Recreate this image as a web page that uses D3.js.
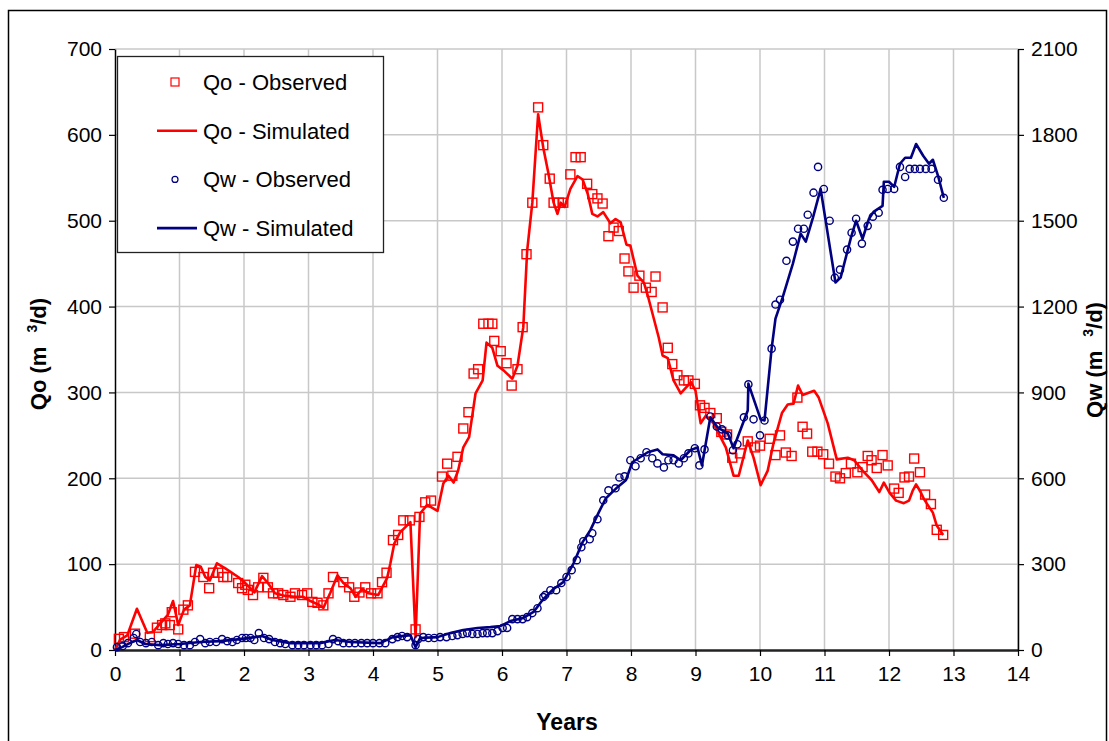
<!DOCTYPE html>
<html lang="en">
<head>
<meta charset="utf-8">
<script src="https://d3js.org/d3.v7.min.js"></script>
<style>
  body { margin: 0; background: #fff; }
  svg text { font-family: "Liberation Sans", Arial, sans-serif; }
</style>
</head>
<body>
<div id="chart"></div>
<script>
// Qo - observed (years, m3/d)
const qoObsYears = [0.06,0.14,0.31,0.54,0.65,0.73,0.78,0.85,0.88,0.98,1.06,1.13,1.24,1.37,1.46,1.52,1.60,1.68,1.74,1.91,1.97,2.02,2.06,2.14,2.22,2.30,2.37,2.45,2.53,2.61,2.72,2.79,2.90,2.98,3.06,3.14,3.23,3.31,3.38,3.54,3.63,3.71,3.79,3.88,3.97,4.07,4.14,4.21,4.31,4.39,4.47,4.57,4.66,4.72,4.81,4.90,5.07,5.15,5.23,5.31,5.40,5.48,5.56,5.63,5.71,5.79,5.85,5.88,5.98,6.07,6.15,6.24,6.32,6.38,6.47,6.56,6.64,6.74,6.80,6.88,6.95,7.06,7.14,7.22,7.32,7.40,7.48,7.56,7.65,7.73,7.81,7.90,7.96,8.04,8.13,8.23,8.32,8.38,8.49,8.57,8.64,8.72,8.82,8.89,8.99,9.07,9.14,9.23,9.33,9.40,9.49,9.57,9.69,9.81,9.92,10.00,10.15,10.24,10.31,10.40,10.49,10.58,10.66,10.73,10.81,10.89,10.98,11.07,11.17,11.24,11.33,11.41,11.51,11.59,11.67,11.73,11.81,11.90,11.98,12.08,12.15,12.24,12.31,12.39,12.48,12.56,12.65,12.74,12.84];
const qoObs = [13,15,19,15,26,29,31,29,44,24,47,52,91,85,72,90,90,85,85,78,72,76,70,64,73,84,73,66,66,64,62,66,64,66,56,55,52,66,85,79,73,62,67,73,66,66,79,90,128,134,151,151,24,155,172,174,202,217,203,225,258,277,322,327,380,380,380,360,348,334,308,327,376,461,521,632,588,549,521,521,521,554,574,574,543,531,526,520,482,492,488,456,441,422,436,422,417,435,399,352,333,320,314,314,310,285,282,276,270,254,251,224,229,243,236,238,246,227,250,230,226,294,260,252,231,231,228,217,202,200,206,217,207,213,226,221,212,227,215,188,183,201,202,223,207,181,170,140,134];

// Qo - simulated
const qoSimYears = [0,0.08,0.19,0.34,0.50,0.59,0.75,0.82,0.90,0.98,1.07,1.16,1.26,1.33,1.40,1.47,1.58,1.71,1.91,2.02,2.16,2.28,2.37,2.48,2.64,2.79,2.92,3.03,3.15,3.23,3.34,3.45,3.54,3.65,3.73,3.83,3.93,4.08,4.22,4.27,4.33,4.42,4.58,4.66,4.73,4.84,5.00,5.09,5.17,5.25,5.32,5.40,5.49,5.59,5.70,5.76,5.85,5.93,6.02,6.16,6.24,6.33,6.39,6.47,6.56,6.64,6.72,6.80,6.86,6.91,6.97,7.06,7.17,7.25,7.33,7.40,7.48,7.57,7.68,7.76,7.84,7.93,7.99,8.10,8.20,8.27,8.35,8.43,8.49,8.57,8.66,8.77,8.93,9.00,9.08,9.16,9.27,9.36,9.47,9.59,9.67,9.81,9.90,10.01,10.12,10.21,10.34,10.43,10.52,10.59,10.66,10.84,10.91,11.05,11.19,11.36,11.46,11.59,11.73,11.85,11.92,12.01,12.11,12.23,12.31,12.37,12.42,12.49,12.54,12.60,12.68,12.74,12.84];
const qoSim = [0,12,17,48,20,21,35,41,57,29,47,52,99,97,85,81,101,95,85,78,67,86,78,66,63,62,62,57,53,49,67,87,78,72,62,71,66,64,84,101,124,137,149,15,159,169,162,194,203,195,209,236,248,299,314,358,352,331,326,316,331,376,465,521,624,585,555,521,508,521,516,537,552,548,531,508,505,510,497,502,498,472,471,436,428,410,387,364,343,340,314,299,312,302,264,273,265,252,236,203,203,244,224,192,209,241,276,286,287,308,297,302,294,264,222,224,221,209,198,184,195,183,174,171,174,186,193,184,176,169,160,145,134];

// Qw - observed
const qwObsYears = [0.03,0.12,0.20,0.29,0.33,0.39,0.48,0.57,0.67,0.75,0.82,0.90,0.98,1.07,1.16,1.24,1.32,1.40,1.47,1.57,1.66,1.74,1.82,1.89,1.97,2.03,2.10,2.16,2.23,2.31,2.39,2.48,2.56,2.64,2.75,2.84,2.93,3.03,3.12,3.21,3.31,3.38,3.46,3.54,3.63,3.72,3.82,3.91,4.00,4.10,4.19,4.30,4.38,4.45,4.53,4.66,4.70,4.78,4.86,4.95,5.04,5.14,5.23,5.31,5.39,5.46,5.54,5.62,5.70,5.77,5.85,5.93,6.01,6.08,6.16,6.24,6.32,6.39,6.47,6.55,6.64,6.67,6.75,6.84,6.92,7.00,7.08,7.16,7.23,7.26,7.36,7.40,7.48,7.57,7.65,7.76,7.82,7.90,7.99,8.07,8.15,8.24,8.33,8.41,8.51,8.58,8.66,8.74,8.82,8.89,8.99,9.06,9.14,9.23,9.33,9.41,9.50,9.58,9.65,9.75,9.82,9.90,10.00,10.07,10.18,10.24,10.31,10.41,10.51,10.59,10.68,10.74,10.83,10.90,10.99,11.08,11.16,11.24,11.35,11.42,11.49,11.58,11.67,11.75,11.84,11.90,11.98,12.08,12.17,12.25,12.32,12.40,12.48,12.57,12.66,12.76,12.85];
const qwObs = [10,14,24,42,56,28,24,28,17,24,21,24,21,17,17,28,38,24,28,28,38,31,28,35,42,42,42,35,59,42,38,28,24,21,17,17,17,17,17,17,21,38,31,24,24,24,24,24,24,24,24,38,45,49,45,17,38,45,42,42,45,45,49,52,56,59,56,56,59,59,59,66,77,77,108,108,108,115,129,146,185,192,209,209,234,255,279,314,359,380,387,408,457,523,558,565,603,607,663,642,670,691,670,652,638,663,663,652,670,687,705,645,701,816,781,771,750,698,719,813,928,806,750,802,1053,1207,1224,1360,1427,1472,1472,1521,1598,1688,1611,1500,1301,1329,1399,1458,1507,1420,1482,1514,1528,1608,1611,1611,1688,1653,1681,1681,1681,1681,1681,1643,1580];

// Qw - simulated
const qwSimYears = [0,0.11,0.23,0.34,0.47,0.70,1.01,1.32,1.63,1.94,2.17,2.28,2.44,2.72,3.18,3.41,3.65,4.11,4.31,4.58,4.66,4.73,5.00,5.20,5.40,5.62,5.82,5.98,6.13,6.33,6.49,6.64,6.80,6.95,7.11,7.25,7.37,7.50,7.61,7.79,7.92,8.02,8.26,8.41,8.49,8.66,8.77,8.92,9.03,9.10,9.23,9.34,9.50,9.59,9.81,9.82,10.01,10.07,10.18,10.24,10.35,10.51,10.63,10.71,10.82,10.94,11.17,11.25,11.41,11.49,11.59,11.69,11.76,11.90,11.92,12.00,12.08,12.17,12.25,12.34,12.42,12.53,12.62,12.68,12.76,12.85];
const qwSim = [0,10,24,35,21,17,21,28,31,38,45,49,35,24,24,35,28,24,45,52,10,42,45,59,70,77,80,84,101,112,133,178,213,237,303,377,419,481,530,569,593,656,691,701,684,680,663,698,708,645,813,778,757,705,837,931,806,802,1053,1158,1231,1350,1455,1427,1510,1611,1284,1301,1441,1500,1437,1507,1531,1552,1636,1636,1618,1699,1720,1720,1768,1727,1699,1713,1657,1580];

const xTicks = d3.range(0, 15, 1);
const qoTicks = d3.range(0, 701, 100);
const qwTicks = d3.range(0, 2101, 300);

const W = 1109, H = 741;
const margin = { top: 49, right: 91, bottom: 91, left: 115 };
const width = W - margin.left - margin.right;
const height = H - margin.top - margin.bottom;

const svg = d3.select("#chart").append("svg")
    .attr("width", W)
    .attr("height", H);

// outer frame
svg.append("rect")
    .attr("x", 8.5).attr("y", 10.5)
    .attr("width", 1098).attr("height", 745)
    .attr("fill", "none").attr("stroke", "#000").attr("stroke-width", 1.5);

const g = svg.append("g").attr("transform", `translate(${margin.left},${margin.top})`);

const x = d3.scaleLinear().domain([0, 14]).range([0, width]);
const yQo = d3.scaleLinear().domain([0, 700]).range([height, 0]);
const yQw = d3.scaleLinear().domain([0, 2100]).range([height, 0]);

// grid
g.append("g").selectAll("line").data(xTicks.slice(1)).join("line")
    .attr("x1", d => x(d)).attr("x2", d => x(d))
    .attr("y1", 0).attr("y2", height)
    .attr("stroke", "#c8c8c8").attr("stroke-width", 1.5);
g.append("g").selectAll("line").data(qoTicks.slice(1)).join("line")
    .attr("x1", 0).attr("x2", width)
    .attr("y1", d => yQo(d)).attr("y2", d => yQo(d))
    .attr("stroke", "#c8c8c8").attr("stroke-width", 1.5);

// axes
function styleAxis(sel) {
    sel.select(".domain").attr("stroke", "#000").attr("stroke-width", 1.5);
    sel.selectAll(".tick line").attr("stroke", "#000").attr("stroke-width", 1.2);
    sel.selectAll(".tick text").attr("fill", "#000").style("font-size", "21px");
}

g.append("g")
    .attr("transform", `translate(0,${height})`)
    .call(d3.axisBottom(x).tickValues(xTicks).tickSize(6).tickSizeOuter(0).tickPadding(10))
    .call(styleAxis)
    .call(s => s.select(".domain").attr("stroke", "#222").attr("stroke-width", 2.5));

g.append("g")
    .call(d3.axisLeft(yQo).tickValues(qoTicks).tickSize(6).tickSizeOuter(0).tickPadding(7))
    .call(styleAxis);

g.append("g")
    .attr("transform", `translate(${width},0)`)
    .call(d3.axisRight(yQw).tickValues(qwTicks).tickFormat(d3.format("d")).tickSize(6).tickSizeOuter(0).tickPadding(7))
    .call(styleAxis);

// series
const qoObsData = qoObsYears.map((t, i) => [t, qoObs[i]]);
const qoSimData = qoSimYears.map((t, i) => [t, qoSim[i]]);
const qwObsData = qwObsYears.map((t, i) => [t, qwObs[i]]);
const qwSimData = qwSimYears.map((t, i) => [t, qwSim[i]]);

const sq = 9;
g.append("g").selectAll("rect").data(qoObsData).join("rect")
    .attr("x", d => x(d[0]) - sq / 2).attr("y", d => yQo(d[1]) - sq / 2)
    .attr("width", sq).attr("height", sq)
    .attr("fill", "none").attr("stroke", "#ff0000").attr("stroke-width", 1.4);

g.append("path").datum(qoSimData)
    .attr("fill", "none").attr("stroke", "#ff0000").attr("stroke-width", 2.6)
    .attr("stroke-linejoin", "round")
    .attr("d", d3.line().x(d => x(d[0])).y(d => yQo(d[1])));

g.append("g").selectAll("circle").data(qwObsData).join("circle")
    .attr("cx", d => x(d[0])).attr("cy", d => yQw(d[1])).attr("r", 3.6)
    .attr("fill", "none").attr("stroke", "#000080").attr("stroke-width", 1.4);

g.append("path").datum(qwSimData)
    .attr("fill", "none").attr("stroke", "#000080").attr("stroke-width", 2.6)
    .attr("stroke-linejoin", "round")
    .attr("d", d3.line().x(d => x(d[0])).y(d => yQw(d[1])));

// axis titles
svg.append("text")
    .attr("x", 567).attr("y", 730)
    .attr("text-anchor", "middle")
    .style("font-size", "23px").style("font-weight", "bold")
    .text("Years");

function unitTitle(label, cx, cy) {
    const t = svg.append("text")
        .attr("transform", `translate(${cx},${cy}) rotate(-90)`)
        .attr("text-anchor", "middle")
        .style("font-size", "22px").style("font-weight", "bold");
    t.append("tspan").text(label + " (m");
    t.append("tspan").attr("dx", 14).attr("dy", -9).style("font-size", "14px").text("3");
    t.append("tspan").attr("dy", 9).text("/d)");
}
unitTitle("Qo", 46, 354);
unitTitle("Qw", 1102, 360);

// legend
const legend = svg.append("g");
legend.append("rect")
    .attr("x", 117.5).attr("y", 56.5).attr("width", 266).attr("height", 196)
    .attr("fill", "#fff").attr("stroke", "#222").attr("stroke-width", 1.3);

const legendItems = [
    { label: "Qo - Observed", type: "square", color: "#ff0000" },
    { label: "Qo - Simulated", type: "line", color: "#ff0000" },
    { label: "Qw - Observed", type: "circle", color: "#000080" },
    { label: "Qw - Simulated", type: "line", color: "#000080" }
];
legendItems.forEach((d, i) => {
    const cy = 82 + i * 48.7;
    if (d.type === "square") {
        legend.append("rect").attr("x", 171).attr("y", cy - 4).attr("width", 8).attr("height", 8)
            .attr("fill", "none").attr("stroke", d.color).attr("stroke-width", 1.2);
    } else if (d.type === "circle") {
        legend.append("circle").attr("cx", 175).attr("cy", cy).attr("r", 3)
            .attr("fill", "none").attr("stroke", d.color).attr("stroke-width", 1.2);
    } else {
        legend.append("line").attr("x1", 157).attr("x2", 197).attr("y1", cy).attr("y2", cy)
            .attr("stroke", d.color).attr("stroke-width", 2.6);
    }
    legend.append("text")
        .attr("x", 203).attr("y", cy + 8)
        .style("font-size", "22px")
        .text(d.label);
});
</script>
</body>
</html>
